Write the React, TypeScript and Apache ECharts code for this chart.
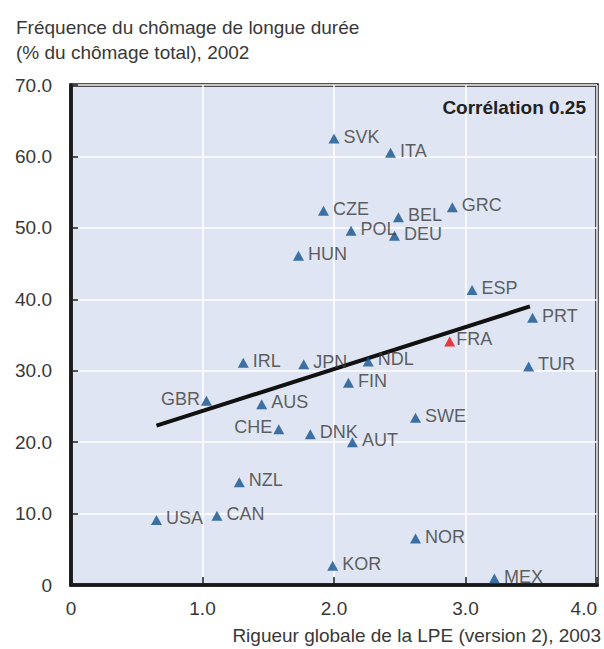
import React, { useEffect, useRef } from "react";
import * as echarts from "echarts";

const countries = ["SVK","ITA","CZE","BEL","GRC","POL","DEU","HUN","ESP","PRT","FRA","IRL","JPN","NDL","TUR","FIN","GBR","AUS","SWE","CHE","DNK","AUT","NZL","USA","CAN","NOR","KOR","MEX"];
const lpeValues = [2.0,2.43,1.92,2.49,2.9,2.13,2.46,1.73,3.05,3.51,2.88,1.31,1.77,2.26,3.48,2.11,1.03,1.45,2.62,1.58,1.82,2.14,1.28,0.65,1.11,2.62,1.99,3.22];
const longTermValues = [62.5,60.5,52.4,51.5,52.9,49.6,48.9,46.1,41.3,37.4,34.1,31.1,30.9,31.3,30.6,28.3,25.8,25.3,23.4,21.8,21.1,20.0,14.4,9.1,9.7,6.5,2.7,0.9];
const trendX = [0.65, 3.49];
const trendY = [22.3, 39.0];
const yTicks = [0, 10, 20, 30, 40, 50, 60, 70];
const xTicks = [0, 1, 2, 3, 4];
const titleLines = ["Fréquence du chômage de longue durée", "(% du chômage total), 2002"];
const xAxisTitle = "Rigueur globale de la LPE (version 2), 2003";
const correlationText = "Corrélation 0.25";
const highlighted = "FRA";
const leftLabelled = ["GBR", "CHE"];

const FONT = "'Liberation Sans', Arial, sans-serif";
const TEXT = "#383838";
const FRAME = "#1a1a1a";

export default function App() {
  const ref = useRef<HTMLDivElement>(null);
  useEffect(() => {
    if (!ref.current) return;
    const chart = echarts.init(ref.current, undefined, { renderer: "svg" });
    const fmt = (v: number) => (v === 0 ? "0" : v.toFixed(1));
    const points = countries.map((c, i) => {
      const isHi = c === highlighted;
      const isLeft = leftLabelled.includes(c);
      return {
        name: c,
        value: [lpeValues[i], longTermValues[i]],
        itemStyle: { color: isHi ? "#e60d14" : "#13528f" },
        label: {
          position: isLeft ? "left" : "right",
          distance: isLeft || isHi ? 1 : 4,
        },
      };
    });
    chart.setOption({
      animation: false,
      textStyle: { fontFamily: FONT },
      title: {
        text: titleLines.join("\n"),
        left: 11,
        top: 10,
        textStyle: { fontFamily: FONT, fontSize: 19, fontWeight: "normal", color: TEXT, lineHeight: 25 },
      },
      grid: {
        left: 71,
        right: 6,
        top: 85,
        bottom: 64,
        show: true,
        backgroundColor: "#dfe5f2",
        borderColor: FRAME,
        borderWidth: 3.5,
      },
      xAxis: {
        type: "value",
        min: xTicks[0],
        max: xTicks[xTicks.length - 1],
        interval: 1,
        name: xAxisTitle,
        nameLocation: "end",
        nameGap: 4,
        nameTextStyle: {
          fontFamily: FONT,
          fontSize: 19,
          color: TEXT,
          align: "right",
          verticalAlign: "top",
          padding: [41, 0, 0, 0],
        },
        axisLine: { show: true, lineStyle: { color: FRAME, width: 3.5 } },
        axisTick: { show: true, inside: true, length: 8, lineStyle: { color: FRAME, width: 1.5 } },
        axisLabel: {
          margin: 14,
          fontFamily: FONT,
          fontSize: 19,
          color: TEXT,
          formatter: fmt,
          alignMaxLabel: "right",
        },
        splitLine: { show: true, lineStyle: { color: "#ffffff", width: 1.5 } },
      },
      yAxis: {
        type: "value",
        min: yTicks[0],
        max: yTicks[yTicks.length - 1],
        interval: 10,
        axisLine: { show: true, lineStyle: { color: FRAME, width: 3.5 } },
        axisTick: { show: true, inside: true, length: 7, lineStyle: { color: FRAME, width: 1.5 } },
        axisLabel: {
          margin: 19,
          fontFamily: FONT,
          fontSize: 19,
          color: TEXT,
          formatter: fmt,
        },
        splitLine: { show: true, lineStyle: { color: "#ffffff", width: 1.5 } },
      },
      graphic: [
        {
          type: "text",
          right: 18,
          top: 98,
          style: {
            text: correlationText,
            fontFamily: FONT,
            fontSize: 19,
            fontWeight: "bold",
            fill: "#222222",
          },
          z: 100,
        },
      ],
      series: [
        {
          type: "line",
          data: trendX.map((x, i) => [x, trendY[i]]),
          showSymbol: false,
          symbol: "none",
          lineStyle: { color: "#111111", width: 4 },
          z: 2,
          silent: true,
        },
        {
          type: "scatter",
          data: points,
          symbol: "triangle",
          symbolSize: [11, 10],
          z: 3,
          label: {
            show: true,
            formatter: "{b}",
            fontFamily: FONT,
            fontSize: 18,
            color: TEXT,
            offset: [0, -2],
          },
        },
      ],
    });
    return () => chart.dispose();
  }, []);
  return (
    <div
      ref={ref}
      style={{ position: "fixed", left: 0, top: 0, width: 604, height: 649, background: "#ffffff" }}
    />
  );
}
